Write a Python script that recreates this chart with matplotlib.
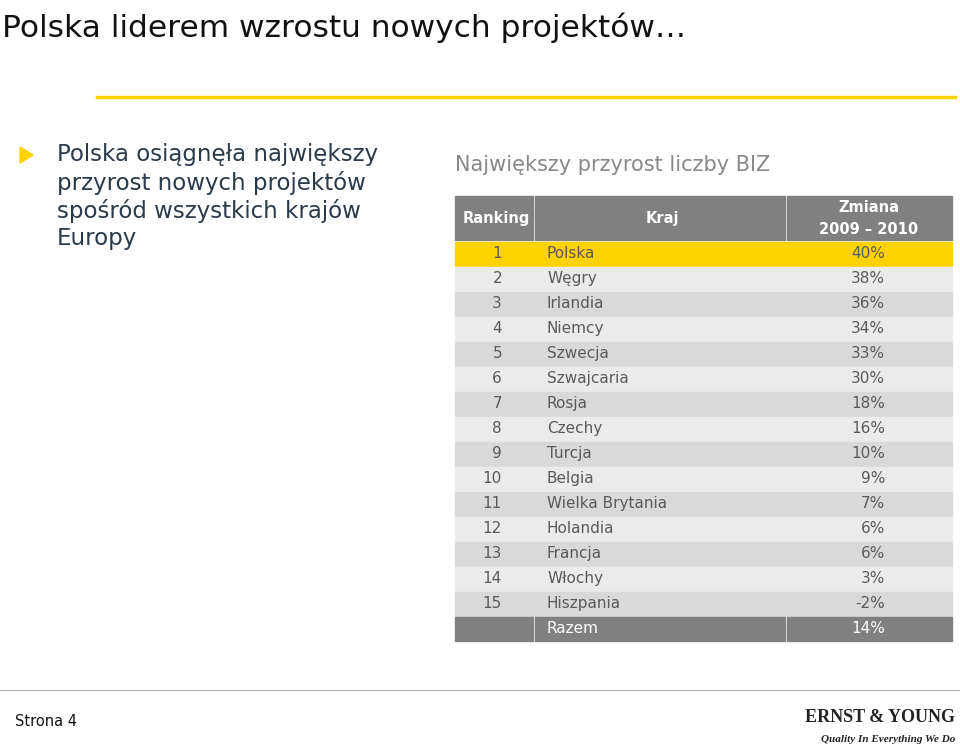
import matplotlib
matplotlib.use("Agg")
import matplotlib.pyplot as plt
from matplotlib.patches import Rectangle, Polygon

ranking = list(range(1, 16))
countries = ["Polska", "Węgry", "Irlandia", "Niemcy", "Szwecja", "Szwajcaria", "Rosja",
             "Czechy", "Turcja", "Belgia", "Wielka Brytania", "Holandia", "Francja",
             "Włochy", "Hiszpania"]
changes = [40, 38, 36, 34, 33, 30, 18, 16, 10, 9, 7, 6, 6, 3, -2]
total_label = "Razem"
total_value = 14

W, H = 960, 746
fig = plt.figure(figsize=(W/100, H/100), dpi=100)
ax = fig.add_axes([0, 0, 1, 1])
ax.set_xlim(0, W); ax.set_ylim(H, 0); ax.axis("off")

YEL = "#FFD200"; DG = "#808080"; TXT = "#5a5a5a"
ax.text(2, 28, "Polska liderem wzrostu nowych projektów…", fontsize=22.5, va="center", color="#111")
ax.plot([97, 955], [97, 97], color=YEL, lw=2.5)

ax.add_patch(Polygon([[20, 147], [20, 163], [33, 155]], color=YEL))
for i, s in enumerate(["Polska osiągnęła największy", "przyrost nowych projektów",
                       "spośród wszystkich krajów", "Europy"]):
    ax.text(57, 155 + 28*i, s, fontsize=16.5, va="center", color="#2b3a4a")

ax.text(455, 165, "Największy przyrost liczby BIZ", fontsize=15, va="center", color="#888")

cols = [(455, 533), (535, 785), (787, 952)]
for x0, x1 in cols:
    ax.add_patch(Rectangle((x0, 196), x1-x0, 44, color=DG))
ax.text(496, 218, "Ranking", fontsize=10.5, weight="bold", color="white", ha="center", va="center")
ax.text(662, 218, "Kraj", fontsize=10.5, weight="bold", color="white", ha="center", va="center")
ax.text(869, 208, "Zmiana", fontsize=10.5, weight="bold", color="white", ha="center", va="center")
ax.text(869, 229, "2009 – 2010", fontsize=10.5, weight="bold", color="white", ha="center", va="center")

RH = 25
for i, (r, c, v) in enumerate(zip(ranking, countries, changes)):
    top = 242 + RH*i
    col = YEL if i == 0 else ("#EBEBEB" if i % 2 == 1 else "#D9D9D9")
    ax.add_patch(Rectangle((455, top), 497, RH-1.5, color=col))
    yc = top + (RH-1.5)/2
    ax.text(502, yc, str(r), fontsize=11, ha="right", va="center", color=TXT)
    ax.text(547, yc, c, fontsize=11, ha="left", va="center", color=TXT)
    ax.text(885, yc, f"{v}%", fontsize=11, ha="right", va="center", color=TXT)

top = 242 + RH*len(ranking)
for x0, x1 in cols:
    ax.add_patch(Rectangle((x0, top), x1-x0, RH-1.5, color=DG))
yc = top + (RH-1.5)/2
ax.text(547, yc, total_label, fontsize=11, ha="left", va="center", color="white")
ax.text(885, yc, f"{total_value}%", fontsize=11, ha="right", va="center", color="white")

ax.plot([0, 960], [690, 690], color="#bbbbbb", lw=1)
ax.text(15, 721, "Strona 4", fontsize=10.5, va="center", color="#111")
ax.text(955, 717, "ERNST & YOUNG", fontsize=13, weight="bold", ha="right", va="center",
        color="#222", family="Liberation Serif")
ax.text(955, 739, "Quality In Everything We Do", fontsize=8, style="italic", weight="bold",
        ha="right", va="center", color="#222", family="Liberation Serif")

fig.savefig("out.png", dpi=100)
